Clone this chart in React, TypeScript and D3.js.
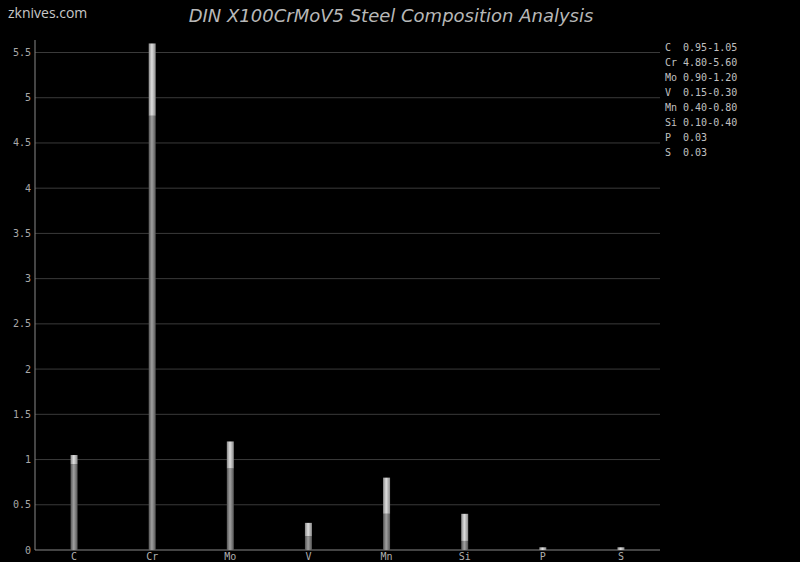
import React from "react";
import * as d3 from "d3";

const elements = ["C", "Cr", "Mo", "V", "Mn", "Si", "P", "S"];
const minValues = [0.95, 4.8, 0.9, 0.15, 0.4, 0.1, 0, 0];
const maxValues = [1.05, 5.6, 1.2, 0.3, 0.8, 0.4, 0.03, 0.03];
const legendLabels = [
  "C  0.95-1.05",
  "Cr 4.80-5.60",
  "Mo 0.90-1.20",
  "V  0.15-0.30",
  "Mn 0.40-0.80",
  "Si 0.10-0.40",
  "P  0.03",
  "S  0.03",
];
const yTicks = [0, 0.5, 1, 1.5, 2, 2.5, 3, 3.5, 4, 4.5, 5, 5.5];

const W = 800;
const H = 562;
const left = 35;
const right = 660;
const bottom = 550;
const top = 40;

export default function App() {
  if (typeof document !== "undefined") {
    document.body.style.margin = "0";
    document.body.style.background = "#000";
  }
  const x = d3.scaleBand().domain(elements).range([left, right]).padding(0);
  const y = d3.scaleLinear().domain([0, 5.5]).range([bottom, 52.5]);
  const bw = 7;
  const mono = "'DejaVu Sans Mono', 'Liberation Mono', monospace";
  return (
    <svg width={W} height={H} style={{ display: "block", background: "#000" }}>
      <defs>
        <linearGradient id="dark" x1="0" x2="1" y1="0" y2="0">
          <stop offset="0" stopColor="#555" />
          <stop offset="0.45" stopColor="#a0a0a0" />
          <stop offset="1" stopColor="#555" />
        </linearGradient>
        <linearGradient id="light" x1="0" x2="1" y1="0" y2="0">
          <stop offset="0" stopColor="#8a8a8a" />
          <stop offset="0.45" stopColor="#dedede" />
          <stop offset="1" stopColor="#8a8a8a" />
        </linearGradient>
      </defs>
      <rect x={0} y={0} width={W} height={H} fill="#000" />
      <text x={8} y={18} fill="#c8c8c8" fontFamily="'Open Sans', 'Noto Sans', sans-serif" fontSize={14}>
        zknives.com
      </text>
      <text
        x={391}
        y={22}
        textAnchor="middle"
        fill="#b8b8b8"
        fontStyle="italic"
        fontFamily="'DejaVu Sans', sans-serif"
        fontSize={18}
      >
        DIN X100CrMoV5 Steel Composition Analysis
      </text>
      {yTicks.map((t) => (
        <g key={t}>
          {t > 0 && <line x1={left} x2={right} y1={y(t)} y2={y(t)} stroke="#3a3a3a" strokeWidth={1} />}
          <text
            x={31}
            y={y(t) + 3.5}
            textAnchor="end"
            fill="#a8a8a8"
            fontFamily={mono}
            fontSize={10}
          >
            {String(t)}
          </text>
        </g>
      ))}
      <line x1={left} x2={left} y1={top} y2={bottom} stroke="#888" strokeWidth={1} />
      <line x1={left} x2={right} y1={bottom} y2={bottom} stroke="#888" strokeWidth={1} />
      {elements.map((e, i) => {
        const cx = (x(e) as number) + x.bandwidth() / 2;
        const y0 = y(0);
        const yMin = y(minValues[i]);
        const yMax = y(maxValues[i]);
        return (
          <g key={e}>
            {minValues[i] > 0 && (
              <rect x={cx - bw / 2} y={yMin} width={bw} height={y0 - yMin} fill="url(#dark)" />
            )}
            <rect x={cx - bw / 2} y={yMax} width={bw} height={Math.max(1.5, yMin - yMax)} fill="url(#light)" />
            <text x={cx} y={560} textAnchor="middle" fill="#b0b0b0" fontFamily={mono} fontSize={10}>
              {e}
            </text>
          </g>
        );
      })}
      {legendLabels.map((l, i) => (
        <text
          key={l}
          x={665}
          y={51 + i * 15}
          fill="#c0c0c0"
          fontFamily={mono}
          fontSize={10}
          style={{ whiteSpace: "pre" }}
        >
          {l}
        </text>
      ))}
    </svg>
  );
}
